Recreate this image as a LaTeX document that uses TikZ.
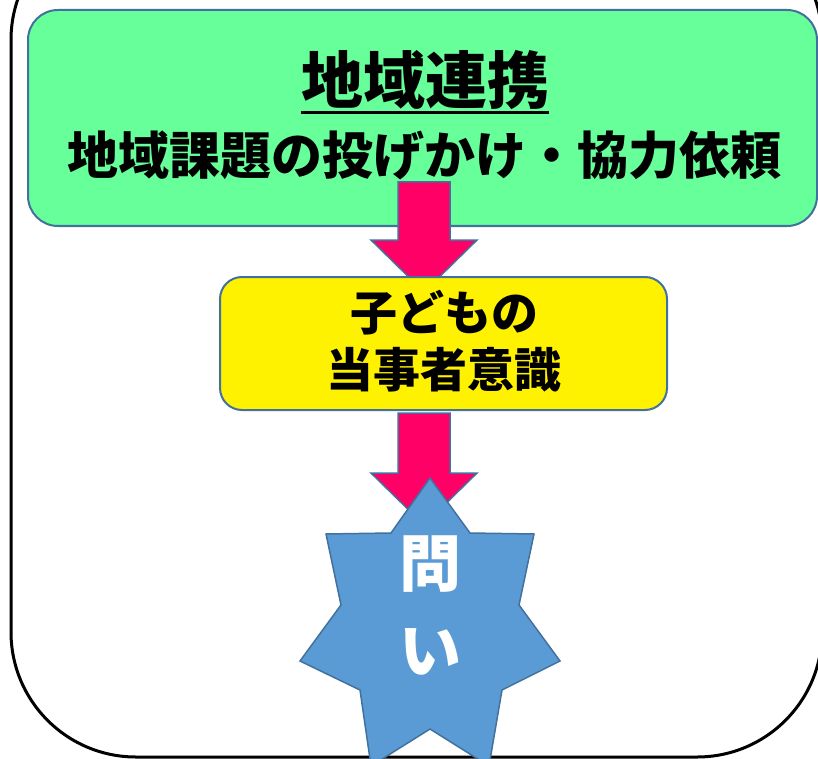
\documentclass[tikz,border=0pt]{standalone}
\usepackage{fontspec}
\newfontfamily\jpfont{Noto Sans CJK JP}
\definecolor{linkgreen}{HTML}{66FF99}
\definecolor{arrowpink}{HTML}{FF0066}
\definecolor{frameblue}{HTML}{41719C}
\definecolor{starblue}{HTML}{5B9BD5}
\begin{document}
\begin{tikzpicture}[x=1pt,y=-1pt]
\tikzstyle{every node}+=[inner sep=0pt]
\tikzstyle{box}=[draw=frameblue, line width=2pt]
\tikzstyle{blockarrow}=[fill=arrowpink, draw=frameblue, line width=1.5pt]
\useasboundingbox (0,0) rectangle (818,759);
\clip (0,0) rectangle (818,759);
% outer frame
\draw [black, line width=3pt, rounded corners=125pt] (11,-85) rectangle (822,757);
% boxes
\node [box, fill=linkgreen, rounded corners=30pt, minimum width=789pt, minimum height=216pt] (link) at (422.5,118) {};
\draw [blockarrow] (398,182) -- (450,182) -- (450,240) -- (477,240) -- (424,292) -- (371,240) -- (398,240) -- cycle;
\node [box, fill=yellow, rounded corners=22pt, minimum width=447pt, minimum height=133pt] (aware) at (443.5,343.5) {};
\draw [blockarrow] (398,413) -- (450,413) -- (450,473) -- (477,473) -- (424,525) -- (371,473) -- (398,473) -- cycle;
% star
\draw [fill=starblue, draw=frameblue, line width=1.5pt] (430,478) -- (470,533) -- (534,534) -- (519,605) -- (560,661) -- (502,690) -- (489,766) -- (430,729) -- (371,766) -- (360,690) -- (300,661) -- (341,605) -- (326,534) -- (391,533) -- cycle;
% texts
\node [font=\jpfont\bfseries\fontsize{62}{62}\selectfont] (title) at (425,80) {地域連携};
\draw [line width=3pt] ([yshift=-33pt]title.west) -- ([yshift=-33pt]title.east);
\node [font=\jpfont\bfseries\fontsize{51}{51}\selectfont] (task) at (424,155) {地域課題の投げかけ・協力依頼};
\node [font=\jpfont\bfseries\fontsize{47}{57}\selectfont, align=center] (child) at (444,341) {子どもの\\当事者意識};
\node [font=\jpfont\bfseries\fontsize{62}{87}\selectfont, align=center, text=white] (toi) at (430,606) {問\\い};
\end{tikzpicture}
\end{document}
